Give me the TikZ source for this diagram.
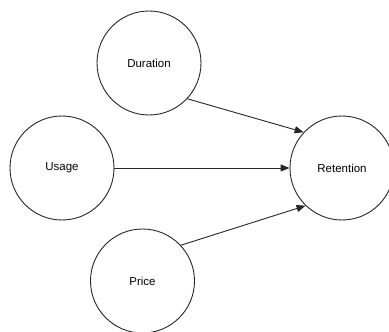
\documentclass[tikz,border=0pt]{standalone}
\usepackage{fontspec}
\setmainfont{Liberation Sans}
\usetikzlibrary{arrows.meta}
\begin{document}
\begin{tikzpicture}[x=1pt,y=-1pt,
  var/.style={circle,draw=black!85,line width=0.9pt,minimum size=104pt,inner sep=0pt,
    font=\fontsize{11.5}{13}\selectfont},
  link/.style={draw=black!85,line width=0.9pt,-{Triangle[length=9pt,width=7pt]}}]
\useasboundingbox (0,0) rectangle (389,332);
\node[var] (dur) at (149,63) {Duration};
\node[var] (use) at (62,168) {Usage};
\node[var] (ret) at (342,168) {Retention};
\node[var] (pri) at (142.5,281) {Price};
\draw[link] (dur.-43) -- (ret.137);
\draw[link] (use.east) -- (ret.west);
\draw[link] (pri.43) -- (ret.226);
\end{tikzpicture}
\end{document}
